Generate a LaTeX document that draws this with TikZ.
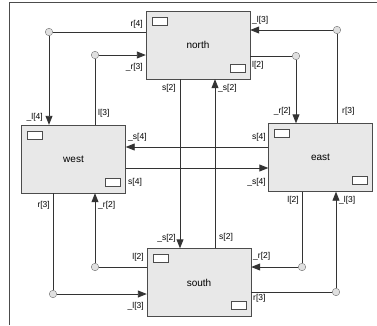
\documentclass[tikz,border=0pt]{standalone}
\usepackage{fontspec}
\setmainfont{Liberation Sans}
\usetikzlibrary{arrows.meta}

\tikzset{
  unit/.style={draw=black!70, fill=black!9, minimum width=104pt, minimum height=68pt,
    inner sep=0pt, font=\fontsize{10}{12}\selectfont},
  port/.style={draw=black!70, fill=white, minimum width=15pt, minimum height=8pt, inner sep=0pt},
  joint/.style={circle, draw=black!55, fill=black!12, minimum size=7.5pt, inner sep=0pt},
  wire/.style={draw=black!80, line width=0.9pt},
  feed/.style={wire, -{Triangle[length=9pt,width=7pt]}},
  lab/.style={font=\fontsize{8.5}{10}\selectfont, inner sep=1pt},
}

\begin{document}
\begin{tikzpicture}[x=1pt,y=-1pt]
  \useasboundingbox (0,0) rectangle (377,325);
  \draw[black!70] (9.5,325) -- (9.5,2.5) -- (377,2.5);

  % the four units
  \node[unit] (north) at (198,45) {north};
  \node[unit] (west) at (73.5,159) {west};
  \node[unit] (east) at (320.5,157.5) {east};
  \node[unit] (south) at (199,282.5) {south};

  \foreach \u in {north,west,east,south} {
    \node[port, anchor=north west] (\u-a) at ([shift={(6,6)}]\u.north west) {};
    \node[port, anchor=south east] (\u-b) at ([shift={(-5,-7)}]\u.south east) {};
  }

  % junctions
  \node[joint] (c1) at (49,32) {};
  \node[joint] (c2) at (95,55) {};
  \node[joint] (c3) at (337,30) {};
  \node[joint] (c4) at (296,56) {};
  \node[joint] (c5) at (302,267) {};
  \node[joint] (c6) at (336,292) {};
  \node[joint] (c7) at (53,294) {};
  \node[joint] (c8) at (95,267) {};

  % straight links
  \draw[feed] ([xshift=-18pt]north.south) -- ([xshift=-18pt]north.south |- south.north);
  \draw[feed] ([xshift=16pt]south.north) -- ([xshift=16pt]south.north |- north.south);
  \draw[feed] ([yshift=10.5pt]east.west) -- ([yshift=10.5pt]east.west -| west.east);
  \draw[feed] ([yshift=-9pt]west.east) -- ([yshift=-9pt]west.east -| east.west);

  % links through the junctions
  \draw[wire] (north.west |- c1) -- (c1);  \draw[feed] (c1) -- (c1 |- west.north);
  \draw[wire] (c2 |- west.north) -- (c2);  \draw[feed] (c2) -- (c2 -| north.west);
  \draw[wire] (c3 |- east.north) -- (c3);  \draw[feed] (c3) -- (c3 -| north.east);
  \draw[wire] (north.east |- c4) -- (c4);  \draw[feed] (c4) -- (c4 |- east.north);
  \draw[wire] (c5 |- east.south) -- (c5);  \draw[feed] (c5) -- (c5 -| south.east);
  \draw[wire] (south.east |- c6) -- (c6);  \draw[feed] (c6) -- (c6 |- east.south);
  \draw[wire] (c7 |- west.south) -- (c7);  \draw[feed] (c7) -- (c7 -| south.west);
  \draw[wire] (south.west |- c8) -- (c8);  \draw[feed] (c8) -- (c8 |- west.south);

  % labels
  \node[lab, anchor=east] (t1) at (144,24) {r[4]};
  \node[lab, anchor=east] (t2) at (44,117) {\_l[4]};
  \node[lab, anchor=west] (t3) at (97,113) {l[3]};
  \node[lab, anchor=east] (t4) at (144,67) {\_r[3]};
  \node[lab, anchor=east] (t5) at (177,88) {s[2]};
  \node[lab, anchor=west] (t6) at (217,88) {\_s[2]};
  \node[lab, anchor=west] (t7) at (251,20) {\_l[3]};
  \node[lab, anchor=west] (t8) at (251,65) {l[2]};
  \node[lab, anchor=east] (t9) at (292,111) {\_r[2]};
  \node[lab, anchor=west] (t10) at (341,111) {r[3]};
  \node[lab, anchor=west] (t11) at (127,137) {\_s[4]};
  \node[lab, anchor=east] (t12) at (267,137) {s[4]};
  \node[lab, anchor=west] (t13) at (127,182) {s[4]};
  \node[lab, anchor=east] (t14) at (267,182) {\_s[4]};
  \node[lab, anchor=east] (t15) at (51,205) {r[3]};
  \node[lab, anchor=west] (t16) at (97,205) {\_r[2]};
  \node[lab, anchor=east] (t17) at (300,200) {l[2]};
  \node[lab, anchor=west] (t18) at (338,200) {\_l[3]};
  \node[lab, anchor=east] (t19) at (177,238) {\_s[2]};
  \node[lab, anchor=west] (t20) at (218,237) {s[2]};
  \node[lab, anchor=east] (t21) at (145,257) {l[2]};
  \node[lab, anchor=west] (t22) at (252,256) {\_r[2]};
  \node[lab, anchor=east] (t23) at (145,306) {\_l[3]};
  \node[lab, anchor=west] (t24) at (252,298) {r[3]};
\end{tikzpicture}
\end{document}
